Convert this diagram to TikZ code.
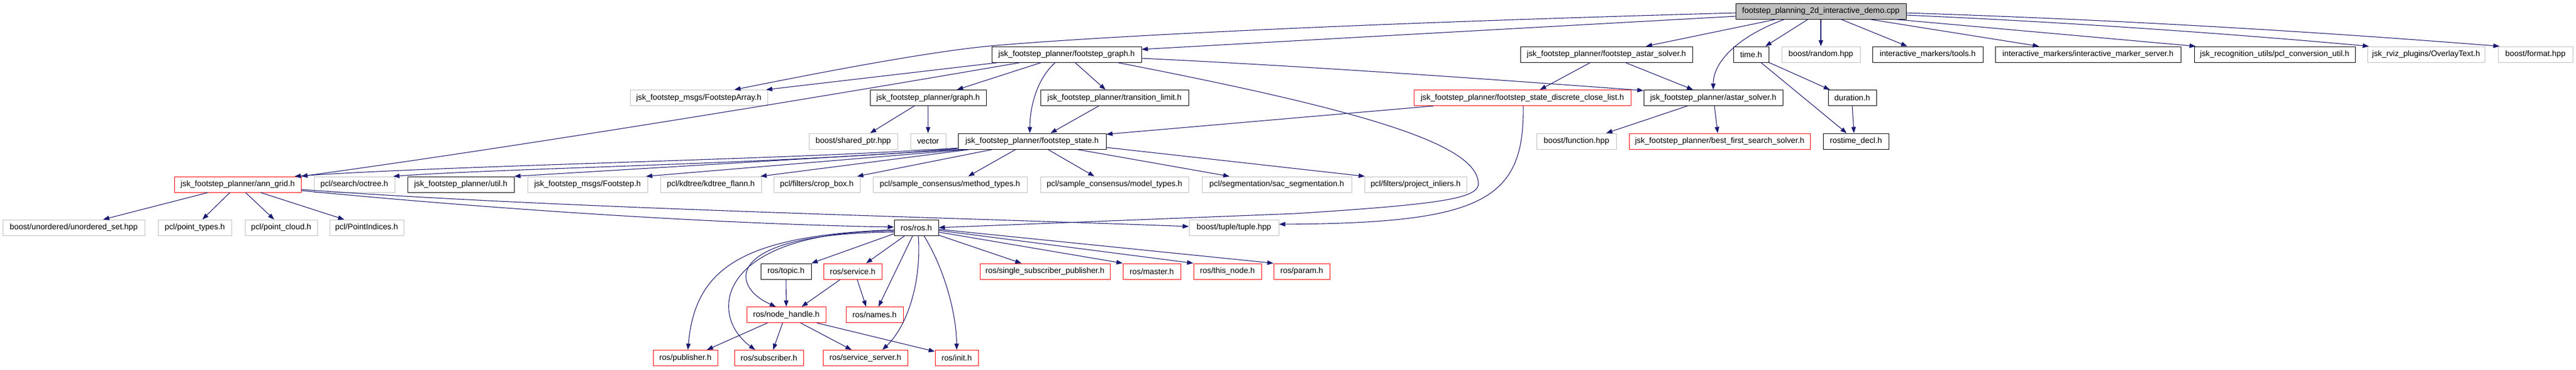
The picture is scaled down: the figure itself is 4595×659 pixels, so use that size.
\documentclass[tikz,border=0pt]{standalone}
\usepackage{fontspec}
\setmainfont{Liberation Sans}
\usepackage{xcolor}
\usetikzlibrary{arrows.meta}
\definecolor{edgeblue}{HTML}{191970}
\definecolor{grey75}{HTML}{BFBFBF}
\tikzset{
  filebox/.style={draw, line width=1pt, minimum height=28pt, inner xsep=3pt, inner ysep=0pt, font=\fontsize{14.3}{16}\selectfont},
  doc/.style={filebox, draw=black},
  ext/.style={filebox, draw=grey75},
  trunc/.style={filebox, draw=red},
  mainfile/.style={filebox, draw=black, fill=grey75},
  incl/.style={draw=edgeblue, line width=1.1pt, -{Triangle[length=11pt,width=8pt]}}
}
\begin{document}
\begin{tikzpicture}[x=1pt, y=1pt]
		\useasboundingbox (0,0) rectangle (4595,-659);
		\node[mainfile, minimum width=304pt] (main) at (3248,-20) {footstep\_planning\_2d\_interactive\_demo.cpp};

		\node[doc, minimum width=267pt] (fgraph) at (1902.5,-97) {jsk\_footstep\_planner/footstep\_graph.h};
		\node[doc, minimum width=307pt] (fastar) at (2865.5,-97) {jsk\_footstep\_planner/footstep\_astar\_solver.h};
		\node[doc, minimum width=63pt] (time) at (3123.5,-97) {time.h};
		\node[ext, minimum width=140pt] (random) at (3248,-97) {boost/random.hpp};
		\node[doc, minimum width=197pt] (tools) at (3438.5,-97) {interactive\_markers/tools.h};
		\node[doc, minimum width=331pt] (imserver) at (3724.5,-97) {interactive\_markers/interactive\_marker\_server.h};
		\node[doc, minimum width=287pt] (pclconv) at (4057.5,-97) {jsk\_recognition\_utils/pcl\_conversion\_util.h};
		\node[ext, minimum width=209pt] (overlay) at (4327.5,-97) {jsk\_rviz\_plugins/OverlayText.h};
		\node[ext, minimum width=133pt] (format) at (4522.5,-97) {boost/format.hpp};

		\node[ext, minimum width=245pt] (farray) at (1246.5,-174.5) {jsk\_footstep\_msgs/FootstepArray.h};
		\node[doc, minimum width=207pt] (graph) at (1655.5,-174.5) {jsk\_footstep\_planner/graph.h};
		\node[doc, minimum width=264pt] (translimit) at (1988,-174.5) {jsk\_footstep\_planner/transition\_limit.h};
		\node[trunc, minimum width=387pt] (closelist) at (2715.5,-174.5) {jsk\_footstep\_planner/footstep\_state\_discrete\_close\_list.h};
		\node[doc, minimum width=248pt] (astar) at (3056,-174.5) {jsk\_footstep\_planner/astar\_solver.h};
		\node[doc, minimum width=86pt] (duration) at (3304,-174.5) {duration.h};

		\node[ext, minimum width=158pt] (sharedptr) at (1522,-252) {boost/shared\_ptr.hpp};
		\node[ext, minimum width=63pt] (vector) at (1655.5,-252) {vector};
		\node[doc, minimum width=264pt] (fstate) at (1841,-252) {jsk\_footstep\_planner/footstep\_state.h};
		\node[ext, minimum width=142pt] (function) at (2812,-252) {boost/function.hpp};
		\node[trunc, minimum width=323pt] (bestfirst) at (3067.5,-252) {jsk\_footstep\_planner/best\_first\_search\_solver.h};
		\node[doc, minimum width=117pt] (rostime) at (3310.5,-252) {rostime\_decl.h};

		\node[trunc, minimum width=226pt] (anngrid) at (424,-329) {jsk\_footstep\_planner/ann\_grid.h};
		\node[ext, minimum width=144pt] (octree) at (632,-329) {pcl/search/octree.h};
		\node[doc, minimum width=190pt] (util) at (822,-329) {jsk\_footstep\_planner/util.h};
		\node[ext, minimum width=214pt] (footstep) at (1048,-329) {jsk\_footstep\_msgs/Footstep.h};
		\node[ext, minimum width=180pt] (kdtree) at (1268,-329) {pcl/kdtree/kdtree\_flann.h};
		\node[ext, minimum width=154pt] (cropbox) at (1457,-329) {pcl/filters/crop\_box.h};
		\node[ext, minimum width=275pt] (method) at (1694.5,-329) {pcl/sample\_consensus/method\_types.h};
		\node[ext, minimum width=264pt] (model) at (1988,-329) {pcl/sample\_consensus/model\_types.h};
		\node[ext, minimum width=267pt] (sac) at (2277.5,-329) {pcl/segmentation/sac\_segmentation.h};
		\node[ext, minimum width=182pt] (project) at (2525,-329) {pcl/filters/project\_inliers.h};

		\node[ext, minimum width=253pt] (unordered) at (131.5,-406) {boost/unordered/unordered\_set.hpp};
		\node[ext, minimum width=131pt] (ptypes) at (347.5,-406) {pcl/point\_types.h};
		\node[ext, minimum width=129pt] (pcloud) at (501.5,-406) {pcl/point\_cloud.h};
		\node[ext, minimum width=132pt] (pindices) at (654,-406) {pcl/PointIndices.h};
		\node[doc, minimum width=79pt] (ros) at (1634.5,-406) {ros/ros.h};
		\node[ext, minimum width=160pt] (tuple) at (2201,-406) {boost/tuple/tuple.hpp};

		\node[doc, minimum width=90pt] (topic) at (1402,-484) {ros/topic.h};
		\node[trunc, minimum width=104pt] (service) at (1521,-484) {ros/service.h};
		\node[trunc, minimum width=232pt] (single) at (1864,-484) {ros/single\_subscriber\_publisher.h};
		\node[trunc, minimum width=103pt] (master) at (2054.5,-484) {ros/master.h};
		\node[trunc, minimum width=121pt] (thisnode) at (2189.5,-484) {ros/this\_node.h};
		\node[trunc, minimum width=100pt] (param) at (2322,-484) {ros/param.h};

		\node[trunc, minimum width=141pt] (nodehandle) at (1402.5,-561.5) {ros/node\_handle.h};
		\node[trunc, minimum width=102pt] (names) at (1560,-561.5) {ros/names.h};

		\node[trunc, minimum width=115pt] (publisher) at (1222.5,-638.5) {ros/publisher.h};
		\node[trunc, minimum width=123pt] (subscriber) at (1371.5,-638.5) {ros/subscriber.h};
		\node[trunc, minimum width=151pt] (sserver) at (1543.5,-638.5) {ros/service\_server.h};
		\node[trunc, minimum width=77pt] (init) at (1706.5,-638.5) {ros/init.h};

		\draw[incl] ([yshift=-9pt]main.west) -- ([yshift=9pt]fgraph.east);
		\draw[incl] ([yshift=-3pt]main.west) .. controls (2300,-45) and (1900,-70) .. (1766,-82) .. controls (1640,-94) and (1420,-138) .. ([xshift=63.5pt]farray.north);
		\draw[incl] ([xshift=-80pt]main.south) -- ([xshift=70.5pt]fastar.north);
		\draw[incl] ([xshift=-65pt]main.south) .. controls (3100,-65) and (3056,-110) .. (astar.north);
		\draw[incl] ([xshift=-23pt]main.south) -- ([xshift=25.5pt]time.north);
		\draw[incl] (main.south) -- (random.north);
		\draw[incl] ([xshift=36pt]main.south) -- ([xshift=-36.5pt]tools.north);
		\draw[incl] ([xshift=87pt]main.south) -- ([xshift=-87.5pt]imserver.north);
		\draw[incl] ([xshift=132pt]main.south) -- ([xshift=-141pt]pclconv.north);
		\draw[incl] ([yshift=-7pt]main.east) .. controls (3700,-40) and (4000,-62) .. ([xshift=-102pt]overlay.north);
		\draw[incl] ([yshift=-3pt]main.east) .. controls (3800,-36) and (4150,-58) .. ([xshift=-64pt]format.north);

		\draw[incl] ([xshift=-121pt]fgraph.south) -- ([xshift=-3pt]farray.north east);
		\draw[incl] ([xshift=-82pt]fgraph.south) .. controls (1500,-167) and (937,-260) .. (anngrid.north east);
		\draw[incl] ([xshift=-45pt]fgraph.south) -- ([xshift=51.5pt]graph.north);
		\draw[incl] ([xshift=-20pt]fgraph.south) .. controls (1850,-140) and (1837,-190) .. ([xshift=-4pt]fstate.north);
		\draw[incl] ([xshift=15pt]fgraph.south) -- ([xshift=-16pt]translimit.north);
		\draw[incl] ([yshift=-7pt]fgraph.east) .. controls (2330,-118) and (2640,-140) .. ([yshift=13pt]astar.west);
		\draw[incl] ([xshift=90pt]fgraph.south) .. controls (2450,-200) and (2640,-260) .. (2637,-330) .. controls (2632,-355) and (2560,-365) .. (2310,-381) -- (ros.east);

		\draw[incl] ([xshift=-28.5pt]fastar.south) -- ([xshift=31.5pt]closelist.north);
		\draw[incl] ([xshift=33.5pt]fastar.south) -- ([xshift=-36pt]astar.north);
		\draw[incl] ([xshift=-158.5pt]closelist.south) -- ([yshift=-2pt]fstate.north east);
		\draw[incl] ([xshift=1.5pt]closelist.south) .. controls (2720,-360) and (2640,-398) .. ([yshift=6pt]tuple.east);
		\draw[incl] ([xshift=-46pt]astar.south) -- ([xshift=53pt]function.north);
		\draw[incl] ([xshift=2pt]astar.south) -- ([xshift=-3.5pt]bestfirst.north);

		\draw[incl] (time.south east) -- ([xshift=-40pt]duration.north);
		\draw[incl] ([xshift=17.5pt]time.south) -- ([xshift=-16.5pt]rostime.north);
		\draw[incl] (duration.south) -- ([xshift=-3.5pt]rostime.north);

		\draw[incl] ([xshift=-24.5pt]graph.south) -- ([xshift=30pt]sharedptr.north);
		\draw[incl] (graph.south) -- (vector.north);
		\draw[incl] ([xshift=-28pt]translimit.south) -- ([xshift=33pt]fstate.north);

		\draw[incl] ([yshift=-12pt]fstate.west) .. controls (1400,-285) and (800,-295) .. ([xshift=-12pt]anngrid.north east);
		\draw[incl] ([yshift=-13pt]fstate.west) .. controls (1400,-292) and (900,-300) .. ([xshift=-3pt]octree.north east);
		\draw[incl] ([xshift=-126pt]fstate.south) -- (util.north east);
		\draw[incl] ([xshift=-115pt]fstate.south) -- ([xshift=-3pt]footstep.north east);
		\draw[incl] ([xshift=-110pt]fstate.south) -- ([xshift=-2pt]kdtree.north east);
		\draw[incl] ([xshift=-70pt]fstate.south) -- ([xshift=72pt]cropbox.north);
		\draw[incl] ([xshift=-29pt]fstate.south) -- ([xshift=32.5pt]method.north);
		\draw[incl] ([xshift=28pt]fstate.south) -- ([xshift=-36pt]model.north);
		\draw[incl] ([xshift=80pt]fstate.south) -- ([xshift=-84.5pt]sac.north);
		\draw[incl] ([yshift=-11pt]fstate.east) -- ([xshift=1pt]project.north west);

		\draw[incl] ([xshift=-53pt]anngrid.south) -- ([xshift=52.5pt]unordered.north);
		\draw[incl] ([xshift=-14pt]anngrid.south) -- ([xshift=13.5pt]ptypes.north);
		\draw[incl] ([xshift=14pt]anngrid.south) -- ([xshift=-12.5pt]pcloud.north);
		\draw[incl] ([xshift=41pt]anngrid.south) -- ([xshift=-40pt]pindices.north);
		\draw[incl] ([yshift=-11pt]anngrid.east) .. controls (900,-375) and (1300,-400) .. ([yshift=1pt]ros.west);
		\draw[incl] ([yshift=-9pt]anngrid.east) .. controls (1000,-372) and (1700,-388) .. ([yshift=2pt]tuple.west);

		\draw[incl] ([yshift=-11pt]ros.west) -- (topic.north east);
		\draw[incl] ([xshift=-20.5pt]ros.south) -- ([xshift=24pt]service.north);
		\draw[incl] ([xshift=-6.5pt]ros.south) -- ([xshift=7pt]names.north);
		\draw[incl] ([xshift=3.5pt]ros.south) .. controls (1644,-500) and (1620,-580) .. ([xshift=30.5pt]sserver.north);
		\draw[incl] ([xshift=13.5pt]ros.south) .. controls (1685,-480) and (1706,-560) .. (init.north);
		\draw[incl] ([yshift=1pt]ros.south east) -- ([xshift=-42pt]single.north);
		\draw[incl] ([yshift=-8pt]ros.east) -- (master.north west);
		\draw[incl] ([yshift=-5pt]ros.east) -- (thisnode.north west);
		\draw[incl] ([yshift=-3pt]ros.east) -- (param.north west);
		\draw[incl] ([yshift=-4pt]ros.west) .. controls (1320,-420) and (1240,-480) .. ([xshift=4.5pt]publisher.north);
		\draw[incl] ([yshift=-6pt]ros.west) .. controls (1280,-412) and (1260,-560) .. ([xshift=-24.5pt]subscriber.north);
		\draw[incl] ([yshift=-8pt]ros.west) .. controls (1290,-416) and (1300,-510) .. ([xshift=-18.5pt]nodehandle.north);

		\draw[incl] (topic.south) -- (nodehandle.north);
		\draw[incl] ([xshift=-22pt]service.south) -- ([xshift=27.5pt]nodehandle.north);
		\draw[incl] ([xshift=8pt]service.south) -- ([xshift=-15pt]names.north);
		\draw[incl] ([xshift=-33.5pt]nodehandle.south) -- ([xshift=38.5pt]publisher.north);
		\draw[incl] ([xshift=-6.5pt]nodehandle.south) -- ([xshift=7.5pt]subscriber.north);
		\draw[incl] ([xshift=25.5pt]nodehandle.south) -- ([xshift=-24.5pt]sserver.north);
		\draw[incl] ([xshift=54.5pt]nodehandle.south) -- ([yshift=-3pt]init.north west);
	\end{tikzpicture}
\end{document}
